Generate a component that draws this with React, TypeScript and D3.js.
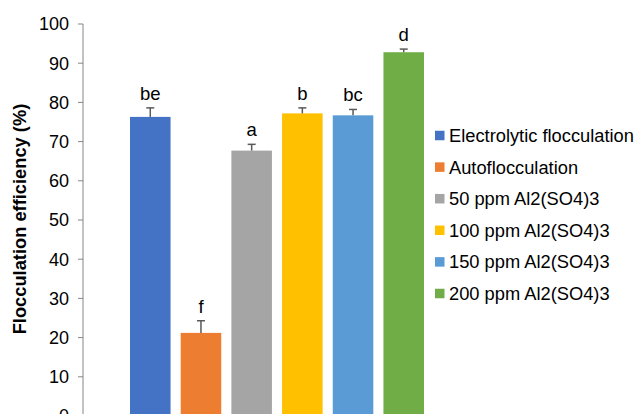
import * as d3 from "d3";

const series = [
  "Electrolytic flocculation",
  "Autoflocculation",
  "50 ppm Al2(SO4)3",
  "100 ppm Al2(SO4)3",
  "150 ppm Al2(SO4)3",
  "200 ppm Al2(SO4)3",
];
const values = [76.3, 21.2, 67.7, 77.2, 76.7, 92.8];
const errors = [2.3, 3.1, 1.6, 1.4, 1.5, 0.8];
const letters = ["be", "f", "a", "b", "bc", "d"];
const colors = ["#4472C4", "#ED7D31", "#A5A5A5", "#FFC000", "#5B9BD5", "#70AD47"];
const yTicks = [0, 10, 20, 30, 40, 50, 60, 70, 80, 90, 100];

const width = 636;
const height = 414;
const font = "'Liberation Sans', Arial, sans-serif";

export default function App() {
  const y = d3.scaleLinear().domain([0, 100]).range([416, 24]);
  const x = d3.scaleBand().domain(series).range([130, 424]).paddingInner(0.2).paddingOuter(0);
  const axisX = 83;

  return (
    <svg
      width={width}
      height={height}
      style={{ position: "absolute", left: 0, top: 0, background: "#fff", fontFamily: font }}
    >
      {/* bars */}
      {series.map((s, i) => (
        <rect
          key={s}
          x={x(s)}
          y={y(values[i])}
          width={x.bandwidth()}
          height={y(0) - y(values[i])}
          fill={colors[i]}
        />
      ))}

      {/* error bars, upper half only */}
      {series.map((s, i) => {
        const cx = (x(s) as number) + x.bandwidth() / 2;
        const top = y(values[i] + errors[i]);
        return (
          <g key={s + "-err"} stroke="#595959" strokeWidth={1.5}>
            <line x1={cx} x2={cx} y1={y(values[i])} y2={top} />
            <line x1={cx - 4} x2={cx + 4} y1={top} y2={top} />
          </g>
        );
      })}

      {/* significance letters */}
      {series.map((s, i) => (
        <text
          key={s + "-lbl"}
          x={(x(s) as number) + x.bandwidth() / 2}
          y={y(values[i] + errors[i]) - 8}
          textAnchor="middle"
          fontSize={18.5}
          fill="#000"
        >
          {letters[i]}
        </text>
      ))}

      {/* y axis */}
      <line x1={axisX} x2={axisX} y1={y(100)} y2={y(0)} stroke="#868686" strokeWidth={1} />
      {yTicks.map((t) => (
        <g key={t}>
          <line x1={axisX - 5} x2={axisX} y1={y(t)} y2={y(t)} stroke="#868686" strokeWidth={1} />
          <text x={69} y={y(t)} dy="0.35em" textAnchor="end" fontSize={18} fill="#000">
            {t}
          </text>
        </g>
      ))}

      <text
        transform={`translate(26, 219) rotate(-90)`}
        textAnchor="middle"
        fontSize={18.3}
        fontWeight="bold"
        fill="#000"
      >
        Flocculation efficiency (%)
      </text>

      {/* legend */}
      {series.map((s, i) => {
        const cy = 135.5 + i * 31.6;
        return (
          <g key={s + "-leg"}>
            <rect x={435} y={cy - 4.75} width={9.5} height={9.5} fill={colors[i]} />
            <text x={449} y={cy} dy="0.35em" fontSize={18.3} fill="#000">
              {s}
            </text>
          </g>
        );
      })}
    </svg>
  );
}
